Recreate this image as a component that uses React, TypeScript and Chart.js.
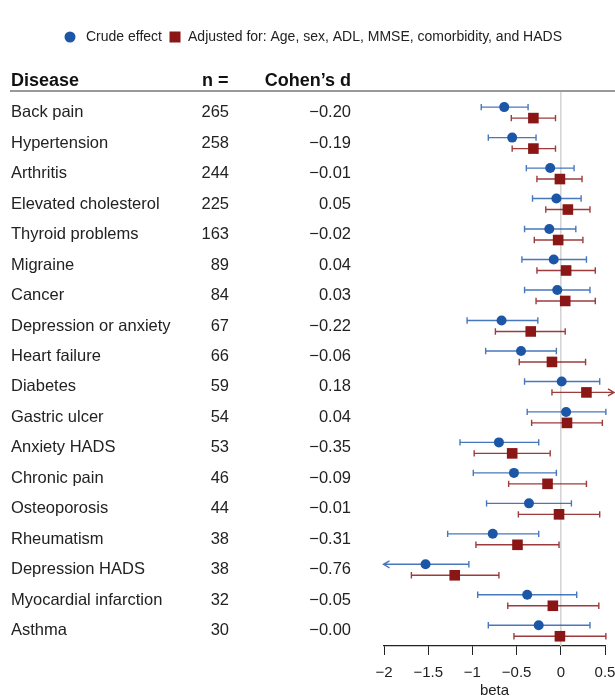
import React, { useEffect, useRef } from 'react';
import { Chart, registerables } from 'chart.js';

Chart.register(...registerables);

const diseases = [
  'Back pain', 'Hypertension', 'Arthritis', 'Elevated cholesterol', 'Thyroid problems',
  'Migraine', 'Cancer', 'Depression or anxiety', 'Heart failure', 'Diabetes',
  'Gastric ulcer', 'Anxiety HADS', 'Chronic pain', 'Osteoporosis', 'Rheumatism',
  'Depression HADS', 'Myocardial infarction', 'Asthma',
];
const nValues = [265, 258, 244, 225, 163, 89, 84, 67, 66, 59, 54, 53, 46, 44, 38, 38, 32, 30];
const cohensD = [
  '\u22120.20', '\u22120.19', '\u22120.01', '0.05', '\u22120.02', '0.04', '0.03', '\u22120.22', '\u22120.06',
  '0.18', '0.04', '\u22120.35', '\u22120.09', '\u22120.01', '\u22120.31', '\u22120.76', '\u22120.05', '\u22120.00',
];

const crude = [-0.64, -0.55, -0.12, -0.05, -0.13, -0.08, -0.04, -0.67, -0.45, 0.01, 0.06, -0.70, -0.53, -0.36, -0.77, -1.53, -0.38, -0.25];
const crudeLo = [-0.90, -0.82, -0.39, -0.32, -0.41, -0.44, -0.41, -1.06, -0.85, -0.41, -0.38, -1.14, -0.99, -0.84, -1.28, -2.05, -0.94, -0.82];
const crudeHi = [-0.37, -0.28, 0.15, 0.23, 0.17, 0.29, 0.33, -0.26, -0.05, 0.44, 0.51, -0.25, -0.05, 0.12, -0.25, -1.04, 0.18, 0.33];

const adjusted = [-0.31, -0.31, -0.01, 0.08, -0.03, 0.06, 0.05, -0.34, -0.10, 0.29, 0.07, -0.55, -0.15, -0.02, -0.49, -1.20, -0.09, -0.01];
const adjustedLo = [-0.56, -0.55, -0.27, -0.17, -0.30, -0.27, -0.28, -0.74, -0.47, -0.10, -0.33, -0.98, -0.59, -0.48, -0.96, -1.69, -0.60, -0.53];
const adjustedHi = [-0.06, -0.06, 0.24, 0.33, 0.25, 0.39, 0.39, 0.05, 0.28, 0.68, 0.47, -0.12, 0.29, 0.44, -0.02, -0.70, 0.43, 0.51];

const xTicks = [-2, -1.5, -1, -0.5, 0, 0.5];
const legendLabels = ['Crude effect', 'Adjusted for: Age, sex, ADL, MMSE, comorbidity, and HADS'];
const headers = ['Disease', 'n =', 'Cohen\u2019s d'];

const BLUE = '#1c56a6';
const BLUE_BAR = 'rgba(40, 96, 176, 0.85)';
const RED = '#8b1616';
const RED_BAR = 'rgba(140, 26, 26, 0.85)';
const FONT = '"Liberation Sans", Arial, Helvetica, sans-serif';
const OFFSET = 0.18;

const forestPlugin = {
  id: 'forest',
  beforeDatasetsDraw(chart: any) {
    const { ctx, chartArea, scales } = chart;
    const x = scales.x;
    const y = scales.y;
    ctx.save();
    const x0 = x.getPixelForValue(0);
    ctx.strokeStyle = '#d2d2d2';
    ctx.lineWidth = 1.5;
    ctx.beginPath();
    ctx.moveTo(x0, chartArea.top);
    ctx.lineTo(x0, chartArea.bottom);
    ctx.stroke();

    const minPx = x.getPixelForValue(xTicks[0]) - 0.5;
    const maxPx = chart.width - 1;
    const bar = (lo: number, hi: number, row: number, color: string) => {
      const py = y.getPixelForValue(row);
      let pl = x.getPixelForValue(lo);
      let ph = x.getPixelForValue(hi);
      const arrowL = pl < minPx;
      const arrowH = ph > maxPx;
      pl = Math.max(pl, minPx);
      ph = Math.min(ph, maxPx);
      ctx.strokeStyle = color;
      ctx.lineWidth = 1.4;
      ctx.beginPath();
      ctx.moveTo(pl, py);
      ctx.lineTo(ph, py);
      if (arrowL) {
        ctx.moveTo(pl + 6, py - 3.5);
        ctx.lineTo(pl, py);
        ctx.lineTo(pl + 6, py + 3.5);
      } else {
        ctx.moveTo(pl, py - 3.2);
        ctx.lineTo(pl, py + 3.2);
      }
      if (arrowH) {
        ctx.moveTo(ph - 6, py - 3.5);
        ctx.lineTo(ph, py);
        ctx.lineTo(ph - 6, py + 3.5);
      } else {
        ctx.moveTo(ph, py - 3.2);
        ctx.lineTo(ph, py + 3.2);
      }
      ctx.stroke();
    };
    diseases.forEach((_, i) => {
      bar(crudeLo[i], crudeHi[i], i - OFFSET, BLUE_BAR);
      bar(adjustedLo[i], adjustedHi[i], i + OFFSET, RED_BAR);
    });
    ctx.restore();
  },
  afterDraw(chart: any) {
    const { ctx, chartArea, scales } = chart;
    const y = scales.y;
    ctx.save();
    const lineY = chartArea.top;
    ctx.strokeStyle = '#999999';
    ctx.lineWidth = 2;
    ctx.beginPath();
    ctx.moveTo(10, lineY);
    ctx.lineTo(chart.width, lineY);
    ctx.stroke();

    ctx.fillStyle = '#111';
    ctx.font = `bold 18px ${FONT}`;
    ctx.textBaseline = 'middle';
    ctx.textAlign = 'left';
    ctx.fillText(headers[0], 11, lineY - 10);
    ctx.fillText(headers[1], 202, lineY - 10);
    ctx.textAlign = 'right';
    ctx.fillText(headers[2], 351, lineY - 10);

    ctx.font = `16.5px ${FONT}`;
    ctx.fillStyle = '#222';
    diseases.forEach((d, i) => {
      const py = y.getPixelForValue(i);
      ctx.textAlign = 'left';
      ctx.fillText(d, 11, py);
      ctx.textAlign = 'right';
      ctx.fillText(String(nValues[i]), 229, py);
      ctx.fillText(cohensD[i], 351, py);
    });

    const ly = 37;
    ctx.font = `14px ${FONT}`;
    ctx.textAlign = 'left';
    ctx.fillStyle = BLUE;
    ctx.beginPath();
    ctx.arc(70, ly, 5.5, 0, Math.PI * 2);
    ctx.fill();
    ctx.fillStyle = '#222';
    ctx.fillText(legendLabels[0], 86, ly);
    const w0 = ctx.measureText(legendLabels[0]).width;
    const sx = 86 + w0 + 13;
    ctx.fillStyle = RED;
    ctx.fillRect(sx - 5.5, ly - 5.5, 11, 11);
    ctx.fillStyle = '#222';
    ctx.fillText(legendLabels[1], sx + 13, ly);
    ctx.restore();
  },
};

export default function App() {
  const ref = useRef<HTMLCanvasElement | null>(null);
  useEffect(() => {
    if (!ref.current) return;
    Chart.defaults.font.family = FONT;
    const chart = new Chart(ref.current, {
      type: 'scatter',
      data: {
        datasets: [
          {
            label: legendLabels[0],
            data: crude.map((v, i) => ({ x: v, y: i - OFFSET })),
            backgroundColor: BLUE,
            borderColor: BLUE,
            pointStyle: 'circle',
            pointRadius: 5,
            pointHoverRadius: 5,
            borderWidth: 0,
          },
          {
            label: legendLabels[1],
            data: adjusted.map((v, i) => ({ x: v, y: i + OFFSET })),
            backgroundColor: RED,
            borderColor: RED,
            pointStyle: 'rect',
            pointRadius: 7.5,
            pointHoverRadius: 7.5,
            borderWidth: 0,
          },
        ],
      },
      options: {
        responsive: false,
        animation: false,
        events: [],
        clip: false as any,
        layout: { padding: { top: 91, left: 384, right: 10, bottom: 0 } },
        plugins: { legend: { display: false }, tooltip: { enabled: false } },
        scales: {
          x: {
            type: 'linear',
            min: -2,
            max: 0.5,
            afterBuildTicks: (axis: any) => {
              axis.ticks = xTicks.map((v) => ({ value: v }));
            },
            afterFit: (axis: any) => {
              axis.paddingLeft = 0;
              axis.paddingRight = 0;
              axis.height = 52;
            },
            grid: {
              display: true,
              drawOnChartArea: false,
              drawTicks: true,
              tickLength: 9,
              color: '#222',
              lineWidth: 1,
            },
            border: { display: true, color: '#222', width: 1.2 },
            ticks: {
              padding: 9,
              color: '#222',
              font: { size: 15, family: FONT },
              maxRotation: 0,
              callback: (v: any) => String(v).replace('-', '\u2212'),
            },
            title: {
              display: true,
              text: 'beta',
              color: '#222',
              font: { size: 15, family: FONT, lineHeight: 1.0 },
              padding: { top: 1, bottom: 0 },
            },
          },
          y: {
            type: 'linear',
            display: false,
            reverse: true,
            min: -0.709,
            max: 17.5,
          },
        },
      },
      plugins: [forestPlugin],
    });
    return () => chart.destroy();
  }, []);
  return (
    <div style={{ position: 'absolute', left: 0, top: 0, width: 615, height: 698 }}>
      <canvas ref={ref} width={615} height={698} style={{ display: 'block' }} />
    </div>
  );
}
